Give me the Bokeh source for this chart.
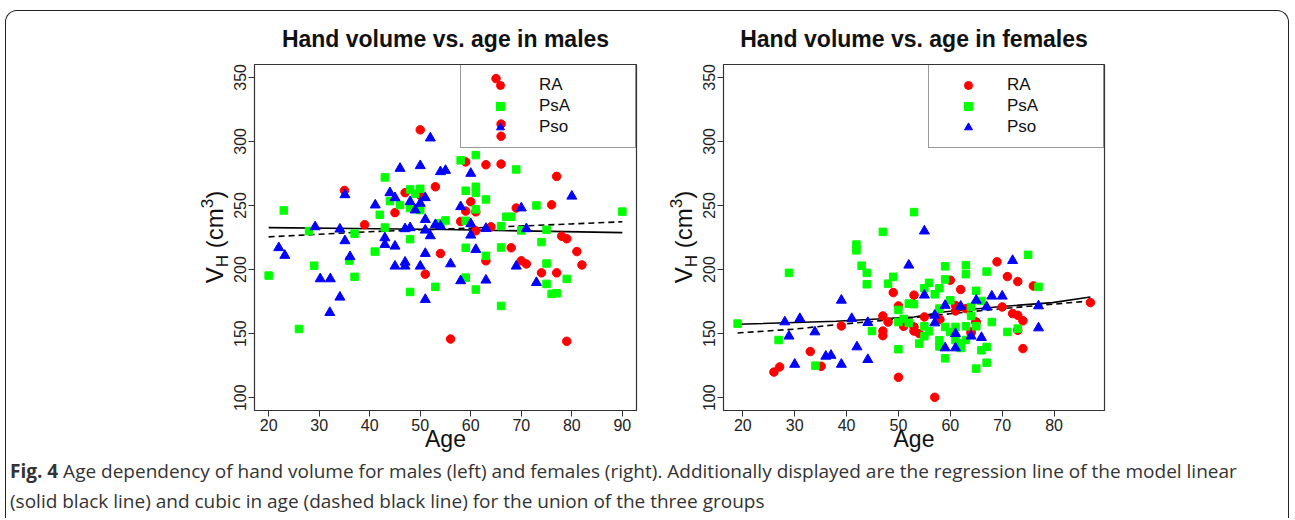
from bokeh.plotting import figure
from bokeh.models import Range1d, Legend, LegendItem, Div, FixedTicker
from bokeh.layouts import row, column
from bokeh.embed import file_html
from bokeh.resources import INLINE

# ---------------- data ----------------
# Males
m_ra_age = [65, 66, 66, 50, 35, 39, 47, 45, 50, 53, 56, 51, 54, 59, 60, 59, 58, 61, 61,
            63, 66, 64, 63, 69, 68, 70, 71, 76, 77, 78, 79, 81, 82, 74, 77, 79]
m_ra_vol = [349, 313.5, 304, 309, 261.7, 235, 260, 244.4, 258, 264.6, 145.8, 196.4, 212.5,
            284, 252.9, 245.6, 237.5, 245, 230.2, 281.8, 282.3, 233.3, 206.8, 248, 217,
            206.8, 204.4, 250.5, 272.7, 226, 224, 214, 203.6, 197.4, 197.4, 144]

m_psa_age = [20, 23, 26, 28, 29, 36, 37, 37, 41, 42, 43, 43, 44, 46, 48, 48, 48, 48, 49,
             50, 50, 53, 54, 55, 58, 59, 59, 59, 59, 61, 61, 61, 61, 61, 63, 63, 66, 66,
             66, 67, 68, 69, 70, 73, 74, 75, 75, 75, 76, 77, 79, 90]
m_psa_vol = [195.3, 246.1, 153.6, 230, 203, 207, 228, 194.3, 214, 242.7, 271.9, 232.8,
             253.4, 250.3, 262.5, 248, 223.7, 182.5, 259.1, 263, 246.4, 186.5, 236.2,
             238.3, 285.2, 261.5, 238, 217, 193.7, 289.3, 264.6, 260, 247, 184.4, 254.7,
             210.7, 233.9, 217.2, 171.6, 241.2, 241.2, 278.1, 230.5, 250, 221.4, 231,
             204.7, 188.8, 181, 181.5, 192.7, 245.2]

m_pso_age = [22, 23.2, 29.2, 30.2, 32.2, 32.1, 34.1, 34.1, 35.1, 35.1, 36.1, 41.1, 43, 43,
             44, 45, 45, 45, 46, 47, 47, 47, 48, 48, 49, 50, 50, 50, 51, 51, 51, 51, 51,
             52, 52, 53, 54, 54, 55, 56, 58, 58, 60, 60, 60, 61, 63, 63, 69, 70, 71, 73, 80]
m_pso_vol = [217, 211, 233.3, 192.7, 192.7, 166.4, 178.4, 231.5, 222.4, 258.3, 210, 250.3,
             224.7, 219.5, 259.9, 256, 218.2, 202.6, 278.9, 231.8, 205.7, 202.6, 252.9,
             232.6, 246.4, 281, 251.6, 202.6, 256, 239, 230.7, 212.5, 176.6, 302.6, 226.3,
             235, 276.3, 233.9, 277.3, 204.4, 249, 191.2, 275, 235.7, 226.8, 215.6, 232,
             191.7, 202.6, 248, 231.8, 189.8, 257.2]

m_lin_age = [20, 37, 55, 90]
m_lin_vol = [232.7, 232.0, 231.2, 228.8]
m_cub_age = [20, 30, 40, 50, 60, 70, 80, 90]
m_cub_vol = [225.5, 227.5, 229.5, 231.0, 232.3, 234.0, 235.6, 237.3]

# Females
f_ra_age = [26, 27.1, 33, 35.1, 39, 47, 47, 47, 48, 49, 50, 50, 51, 53, 53, 53, 54, 55,
            57, 58, 60, 61, 61, 62, 63, 64, 65, 64.9, 64, 69, 70, 71, 72, 73, 73, 73, 74,
            74, 76, 87]
f_ra_vol = [120, 124, 136, 124.5, 156, 163.8, 152, 148.4, 159, 182, 171.6, 115.9, 155.7,
            180, 155.2, 152, 150, 163, 100.3, 161, 191.7, 172, 167.7, 184.4, 169.5, 150.5,
            159, 159, 151.3, 206, 170.8, 194.5, 165.6, 190.6, 164.3, 152.6, 160, 138.3,
            187.2, 174.2]

f_psa_age = [19, 26.9, 28.9, 34, 41.9, 41.9, 42.9, 43.9, 43.9, 44.9, 47, 48, 49, 50, 50,
             50, 51, 52, 52, 53, 53, 54, 55, 55, 55, 55.9, 55.9, 57, 57.9, 57.9, 57.9,
             57.9, 59, 59, 59, 59, 60, 60, 61, 61, 62, 62, 63, 63, 63, 63, 64, 64, 65,
             65, 65, 66, 66, 67, 67, 67, 68, 71, 73, 75, 77]
f_psa_vol = [157.8, 145, 197.4, 125, 219.5, 215, 203, 197.4, 188.5, 152, 229.4, 189,
             194.3, 168.5, 137.8, 159, 161.5, 173.4, 158.3, 244.8, 173, 142.2, 185.4,
             155.7, 148, 189.6, 151.8, 180.7, 185.4, 169.5, 144.8, 140, 202.5, 192.3,
             155.2, 130.7, 176, 151.3, 155.2, 145, 142.2, 138.8, 203.4, 196.4, 155.7, 145,
             170.8, 163.8, 183.4, 155.7, 122.7, 175.5, 137, 198.4, 139.6, 127.3, 159,
             151.3, 153.9, 211.5, 186.5]

f_pso_age = [28.1, 28.9, 30, 31, 33.9, 36, 37, 39, 39, 41, 42, 44.1, 44.1, 52, 55, 55, 57,
             57, 59, 59, 61, 61, 62, 64, 65, 66, 67, 68, 70, 72, 77, 77]
f_pso_vol = [159.1, 148, 126, 161.7, 151.3, 132.3, 133, 176, 126, 161.7, 139.6, 158.6,
             129.7, 203.4, 230, 180, 164.3, 158.3, 172, 138.8, 150, 138.8, 171.3, 148, 176,
             146.9, 170.8, 179.2, 179.2, 207, 171.6, 154.4]

f_lin_age = [19, 38, 53, 59, 69.4, 79.7, 87]
f_lin_vol = [157.3, 159.6, 163.0, 167.0, 171.0, 174.2, 178.6]
f_cub_age = [19, 30, 38, 45, 53, 60, 70, 80, 87]
f_cub_vol = [150.5, 153.5, 157.0, 159.5, 162.5, 165.5, 169.5, 173.0, 175.5]

y_ticks = [100, 150, 200, 250, 300, 350]
m_x_ticks = [20, 30, 40, 50, 60, 70, 80, 90]
f_x_ticks = [20, 30, 40, 50, 60, 70, 80]
groups = ["RA", "PsA", "Pso"]

RED, GREEN, BLUE = "#FF0000", "#00FF00", "#0000FF"
FONT = "Liberation Sans"

FRAME_H = 346
Y0, Y1 = 90, 360


def make_plot(title, xr, frame_w, mb_left, mb_right, ra, psa, pso, lin, cub, xticks):
    p = figure(frame_width=frame_w, frame_height=FRAME_H,
               x_range=Range1d(*xr), y_range=Range1d(Y0, Y1),
               output_backend="svg", toolbar_location=None,
               min_border_left=mb_left, min_border_right=mb_right,
               min_border_top=53, min_border_bottom=44,
               background_fill_color="white", border_fill_color=None)
    p.title.text = title
    p.title.align = "center"
    p.title.text_font = FONT
    p.title.text_font_size = "23px"
    p.title.text_font_style = "bold"
    p.title.text_color = "#111111"
    p.title.standoff = 25
    p.grid.visible = False
    p.outline_line_color = "#333333"
    p.outline_line_width = 1.2

    for ax in (p.xaxis[0], p.yaxis[0]):
        ax.axis_line_color = None
        ax.major_tick_out = 6
        ax.major_tick_in = 0
        ax.minor_tick_line_color = None
        ax.major_tick_line_color = "#333333"
        ax.major_label_text_font = FONT
        ax.major_label_text_font_size = "16px"
        ax.major_label_text_color = "#222222"
    p.xaxis.major_label_standoff = 2
    p.yaxis.major_label_standoff = 2
    p.xaxis.ticker = FixedTicker(ticks=xticks)
    p.yaxis.ticker = FixedTicker(ticks=y_ticks)
    p.yaxis.major_label_orientation = "vertical"
    p.xaxis.axis_label = "Age"
    p.xaxis.axis_label_text_font = FONT
    p.xaxis.axis_label_text_font_size = "23px"
    p.xaxis.axis_label_text_font_style = "normal"
    p.xaxis.axis_label_text_color = "#111111"
    p.xaxis.axis_label_standoff = -8

    p.line(lin[0], lin[1], line_color="black", line_width=1.6)
    p.line(cub[0], cub[1], line_color="black", line_width=1.6, line_dash="6 4")

    r1 = p.scatter(ra[0], ra[1], marker="circle", size=8.5,
                   fill_color=RED, line_color=RED)
    r2 = p.scatter(psa[0], psa[1], marker="square", size=7.5,
                   fill_color=GREEN, line_color=GREEN)
    r3 = p.scatter(pso[0], pso[1], marker="triangle", size=10,
                   fill_color=BLUE, line_color=BLUE)

    legend = Legend(items=[LegendItem(label=groups[0], renderers=[r1]),
                           LegendItem(label=groups[1], renderers=[r2]),
                           LegendItem(label=groups[2], renderers=[r3])],
                    location="top_right", margin=0, padding=10, spacing=1,
                    glyph_width=58, glyph_height=20, label_width=86,
                    label_height=20, label_standoff=10,
                    label_text_font=FONT, label_text_font_size="17px",
                    label_text_color="#111111",
                    border_line_color="#333333", border_line_width=1.2,
                    background_fill_alpha=0)
    p.add_layout(legend, "center")
    return p


def ylabel_div(width, center_x):
    # rotated axis title  V_H (cm^3)  as real HTML text
    left = center_x - 173
    html = (
        f"<div style='position:absolute; left:{left}px; top:{225.5 - 15}px; width:346px; "
        "height:30px; line-height:30px; text-align:center; white-space:nowrap; "
        "transform:rotate(-90deg); transform-origin:50% 50%; "
        f"font-family:\"{FONT}\"; font-size:24px; color:#111;'>"
        "V<span style='font-size:17px; vertical-align:-5px; line-height:0;'>H</span>"
        " (cm<span style='font-size:17px; vertical-align:10px; line-height:0;'>3</span>)"
        "</div>")
    return Div(text=html, width=width, height=440, margin=0,
               styles={"overflow": "visible"})


p1 = make_plot("Hand volume vs. age in males", (17.2, 92.8), 382, 24, 23,
               (m_ra_age, m_ra_vol), (m_psa_age, m_psa_vol), (m_pso_age, m_pso_vol),
               (m_lin_age, m_lin_vol), (m_cub_age, m_cub_vol), m_x_ticks)
p2 = make_plot("Hand volume vs. age in females", (16.28, 89.72), 381, 24, 184,
               (f_ra_age, f_ra_vol), (f_psa_age, f_psa_vol), (f_pso_age, f_pso_vol),
               (f_lin_age, f_lin_vol), (f_cub_age, f_cub_vol), f_x_ticks)

lab1 = ylabel_div(224, 209)
lab2 = ylabel_div(40, 25)

caption = Div(
    text=("<div style='font-family:\"Open Sans\"; font-size:19px; line-height:30px; "
          "color:#333; padding-left:4px; padding-top:2px; white-space:nowrap;'>"
          "<b>Fig. 4</b> Age dependency of hand volume for males (left) and females (right). "
          "Additionally displayed are the regression line of the model linear<br>"
          "(solid black line) and cubic in age (dashed black line) for the union of the "
          "three groups</div>"),
    width=1282, height=64, margin=0)

layout = column(row(lab1, p1, lab2, p2), caption,
                styles={"margin-top": "10px", "margin-left": "5px",
                        "border-top": "1.5px solid #222", "border-left": "1.5px solid #222",
                        "border-right": "1.5px solid #222",
                        "border-radius": "12px 12px 0 0"})

open("out.html", "w").write(file_html(layout, INLINE))
